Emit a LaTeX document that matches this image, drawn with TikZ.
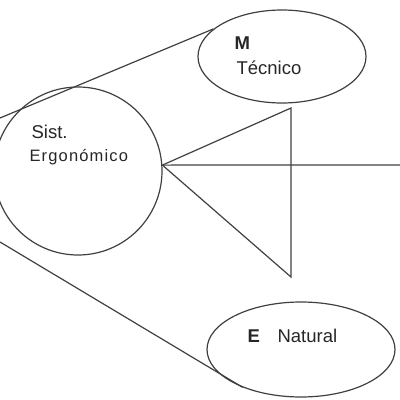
\documentclass[tikz,border=0pt]{standalone}
\usepackage{fontspec}
\setmainfont{Liberation Sans}
\usetikzlibrary{shapes.geometric}

\begin{document}
\begin{tikzpicture}[
            x = 1pt, y = -1pt, % pixel grid, y pointing down
            color = black!75, % line colour
            line width = 1.2pt % line style
        ]

        \tikzstyle{every node}=[inner sep = 0pt, text = black!85]
        \tikzstyle{blob}=[draw, fill = none]
        \tikzstyle{txt}=[anchor = base west, font = \fontsize{18.5}{22}\selectfont]
        \tikzstyle{small}=[anchor = base west, font = \fontsize{16.5}{19}\selectfont\addfontfeature{LetterSpace=7}]
        \tikzstyle{big}=[anchor = base west, font = \fontsize{18.5}{22}\selectfont\bfseries]

        \useasboundingbox (0,0) rectangle (400,400);

        \node[blob, circle, minimum size = 168pt] (sist) at (78,171) {};
        \node[blob, ellipse, minimum width = 168pt, minimum height = 93pt] (tec) at (282,56.5) {};
        \node[blob, ellipse, minimum width = 188pt, minimum height = 95pt] (nat) at (301,349.5) {};

        \node[txt] (sistl) at (31,138) {Sist.};
        \node[small] (ergl) at (29,161) {Ergonómico};
        \node[big] (ml) at (234,49) {M};
        \node[txt] (tecl) at (236,74) {Técnico};
        \node[big] (el) at (247,342) {E};
        \node[txt] (natl) at (277,342) {Natural};

        \coordinate (top) at (291,108);
        \coordinate (bot) at (291,277);
        \coordinate (far) at (400,165);
        \coordinate (ul) at (0,118);
        \coordinate (ll) at (0,242);

        \draw (sist.4) -- (top) -- (bot) -- cycle;
        \draw (sist.4) -- (far);
        \draw (ul) -- (tec.158);
        \draw (ll) -- (nat.213);

  \end{tikzpicture}
\end{document}
